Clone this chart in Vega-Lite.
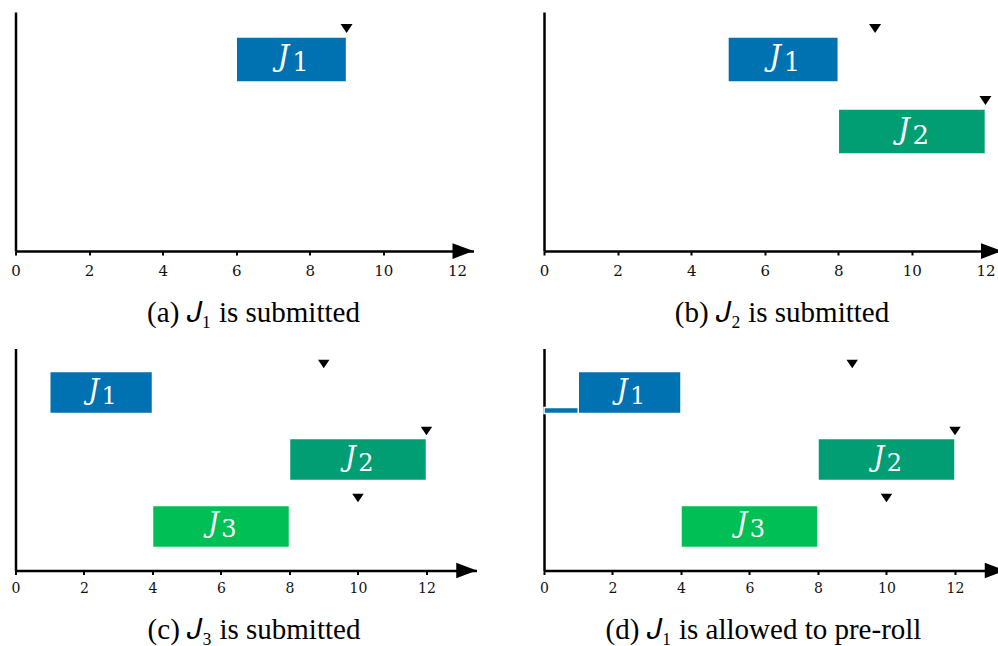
{
  "$schema": "https://vega.github.io/schema/vega-lite/v6.json",
  "padding": {"left": 10.5, "top": 12, "right": 0, "bottom": 0},
  "background": "white",
  "config": {
    "view": {"stroke": null},
    "title": {"font": "Liberation Serif", "fontSize": 29, "fontWeight": "normal", "color": "black", "orient": "bottom", "offset": 20.5},
    "axis": {"grid": false, "title": null, "domainColor": "black", "domainWidth": 2.5, "tickColor": "black", "tickWidth": 2, "tickSize": 4, "labelFont": "DejaVu Serif", "labelColor": "#111", "labelFlush": false}
  },
  "datasets": {
    "jobs": [
      {"panel": "a", "job": "J1", "n": "1", "start": 6, "end": 9},
      {"panel": "b", "job": "J1", "n": "1", "start": 5, "end": 8},
      {"panel": "b", "job": "J2", "n": "2", "start": 8, "end": 12},
      {"panel": "c", "job": "J1", "n": "1", "start": 1, "end": 4},
      {"panel": "c", "job": "J2", "n": "2", "start": 8, "end": 12},
      {"panel": "c", "job": "J3", "n": "3", "start": 4, "end": 8},
      {"panel": "d", "job": "J1", "n": "1", "start": 1, "end": 4},
      {"panel": "d", "job": "J2", "n": "2", "start": 8, "end": 12},
      {"panel": "d", "job": "J3", "n": "3", "start": 4, "end": 8}
    ],
    "preroll": [
      {"panel": "d", "job": "J1", "start": 0, "end": 1}
    ],
    "deadlines": [
      {"panel": "a", "job": "J1", "deadline": 9},
      {"panel": "b", "job": "J1", "deadline": 9},
      {"panel": "b", "job": "J2", "deadline": 12},
      {"panel": "c", "job": "J1", "deadline": 9},
      {"panel": "c", "job": "J2", "deadline": 12},
      {"panel": "c", "job": "J3", "deadline": 10},
      {"panel": "d", "job": "J1", "deadline": 9},
      {"panel": "d", "job": "J2", "deadline": 12},
      {"panel": "d", "job": "J3", "deadline": 10}
    ]
  },
  "vconcat": [
    {
      "hconcat": [
        {
          "width": 458, "height": 239,
          "title": {"text": "(a) 𝐽₁ is submitted", "dx": 9},
          "layer": [
            {
              "data": {"name": "jobs"},
              "transform": [{"filter": "datum.panel === 'a'"}],
              "mark": {"type": "bar", "stroke": "white", "strokeWidth": 1.5},
              "encoding": {
                "x": {"field": "start", "type": "quantitative", "scale": {"domain": [0, 12.45], "nice": false, "zero": false}, "axis": {"values": [0, 2, 4, 6, 8, 10, 12], "format": "d", "labelFontSize": 15, "labelPadding": 8}},
                "x2": {"field": "end"},
                "y": {"field": "job", "type": "nominal", "scale": {"domain": ["J1", "J2", "J3"], "paddingInner": 0.375, "paddingOuter": 0.347}, "axis": {"ticks": false, "labels": false}},
                "color": {"field": "job", "type": "nominal", "scale": {"domain": ["J1", "J2", "J3"], "range": ["#0071b1", "#019e73", "#00bf55"]}, "legend": null}
              }
            },
            {
              "data": {"name": "jobs"},
              "transform": [{"filter": "datum.panel === 'a'"}, {"fold": ["start", "end"], "as": ["edge", "pos"]}],
              "mark": {"type": "text", "text": "J", "font": "DejaVu Serif", "fontStyle": "italic", "fontSize": 29, "color": "white", "dx": -8, "dy": -2},
              "encoding": {"x": {"aggregate": "mean", "field": "pos", "type": "quantitative"}, "y": {"field": "job", "type": "nominal"}}
            },
            {
              "data": {"name": "jobs"},
              "transform": [{"filter": "datum.panel === 'a'"}, {"fold": ["start", "end"], "as": ["edge", "pos"]}],
              "mark": {"type": "text", "font": "DejaVu Serif", "fontSize": 26, "color": "white", "dx": 9, "dy": 4},
              "encoding": {"x": {"aggregate": "mean", "field": "pos", "type": "quantitative"}, "y": {"field": "job", "type": "nominal"}, "text": {"field": "n", "type": "nominal"}}
            },
            {
              "data": {"name": "deadlines"},
              "transform": [{"filter": "datum.panel === 'a'"}],
              "mark": {"type": "point", "shape": "M-1,-0.75L1,-0.75L0,0.75Z", "size": 144, "filled": true, "color": "black", "opacity": 1, "yOffset": -31},
              "encoding": {"x": {"field": "deadline", "type": "quantitative"}, "y": {"field": "job", "type": "nominal"}}
            },
            {
              "data": {"values": [{}]},
              "mark": {"type": "point", "shape": "M-1,-0.75L1,0L-1,0.75Z", "size": 441, "filled": true, "color": "black", "opacity": 1, "xOffset": -10.5},
              "encoding": {"x": {"datum": 12.45, "type": "quantitative"}, "y": {"value": "height"}}
            }
          ]
        },
        {
          "width": 458, "height": 239,
          "title": {"text": "(b) 𝐽₂ is submitted", "dx": 9},
          "layer": [
            {
              "data": {"name": "jobs"},
              "transform": [{"filter": "datum.panel === 'b'"}],
              "mark": {"type": "bar", "stroke": "white", "strokeWidth": 1.5},
              "encoding": {
                "x": {"field": "start", "type": "quantitative", "scale": {"domain": [0, 12.45], "nice": false, "zero": false}, "axis": {"values": [0, 2, 4, 6, 8, 10, 12], "format": "d", "labelFontSize": 15, "labelPadding": 8}},
                "x2": {"field": "end"},
                "y": {"field": "job", "type": "nominal", "scale": {"domain": ["J1", "J2", "J3"], "paddingInner": 0.375, "paddingOuter": 0.347}, "axis": {"ticks": false, "labels": false}},
                "color": {"field": "job", "type": "nominal", "scale": {"domain": ["J1", "J2", "J3"], "range": ["#0071b1", "#019e73", "#00bf55"]}, "legend": null}
              }
            },
            {
              "data": {"name": "jobs"},
              "transform": [{"filter": "datum.panel === 'b'"}, {"fold": ["start", "end"], "as": ["edge", "pos"]}],
              "mark": {"type": "text", "text": "J", "font": "DejaVu Serif", "fontStyle": "italic", "fontSize": 29, "color": "white", "dx": -8, "dy": -2},
              "encoding": {"x": {"aggregate": "mean", "field": "pos", "type": "quantitative"}, "y": {"field": "job", "type": "nominal"}}
            },
            {
              "data": {"name": "jobs"},
              "transform": [{"filter": "datum.panel === 'b'"}, {"fold": ["start", "end"], "as": ["edge", "pos"]}],
              "mark": {"type": "text", "font": "DejaVu Serif", "fontSize": 26, "color": "white", "dx": 9, "dy": 4},
              "encoding": {"x": {"aggregate": "mean", "field": "pos", "type": "quantitative"}, "y": {"field": "job", "type": "nominal"}, "text": {"field": "n", "type": "nominal"}}
            },
            {
              "data": {"name": "deadlines"},
              "transform": [{"filter": "datum.panel === 'b'"}],
              "mark": {"type": "point", "shape": "M-1,-0.75L1,-0.75L0,0.75Z", "size": 144, "filled": true, "color": "black", "opacity": 1, "yOffset": -31},
              "encoding": {"x": {"field": "deadline", "type": "quantitative"}, "y": {"field": "job", "type": "nominal"}}
            },
            {
              "data": {"values": [{}]},
              "mark": {"type": "point", "shape": "M-1,-0.75L1,0L-1,0.75Z", "size": 441, "filled": true, "color": "black", "opacity": 1, "xOffset": -10.5},
              "encoding": {"x": {"datum": 12.45, "type": "quantitative"}, "y": {"value": "height"}}
            }
          ]
        }
      ],
      "spacing": 65.5
    },
    {
      "hconcat": [
        {
          "width": 461, "height": 222,
          "title": {"text": "(c) 𝐽₃ is submitted", "dx": 8},
          "layer": [
            {
              "data": {"name": "jobs"},
              "transform": [{"filter": "datum.panel === 'c'"}],
              "mark": {"type": "bar", "stroke": "white", "strokeWidth": 1.5},
              "encoding": {
                "x": {"field": "start", "type": "quantitative", "scale": {"domain": [0, 13.46], "nice": false, "zero": false}, "axis": {"values": [0, 2, 4, 6, 8, 10, 12], "format": "d", "labelFontSize": 14, "labelPadding": 7}},
                "x2": {"field": "end"},
                "y": {"field": "job", "type": "nominal", "scale": {"domain": ["J1", "J2", "J3"], "paddingInner": 0.375, "paddingOuter": 0.345}, "axis": {"ticks": false, "labels": false}},
                "color": {"field": "job", "type": "nominal", "scale": {"domain": ["J1", "J2", "J3"], "range": ["#0071b1", "#019e73", "#00bf55"]}, "legend": null}
              }
            },
            {
              "data": {"name": "jobs"},
              "transform": [{"filter": "datum.panel === 'c'"}, {"fold": ["start", "end"], "as": ["edge", "pos"]}],
              "mark": {"type": "text", "text": "J", "font": "DejaVu Serif", "fontStyle": "italic", "fontSize": 27, "color": "white", "dx": -7.5, "dy": -2},
              "encoding": {"x": {"aggregate": "mean", "field": "pos", "type": "quantitative"}, "y": {"field": "job", "type": "nominal"}}
            },
            {
              "data": {"name": "jobs"},
              "transform": [{"filter": "datum.panel === 'c'"}, {"fold": ["start", "end"], "as": ["edge", "pos"]}],
              "mark": {"type": "text", "font": "DejaVu Serif", "fontSize": 24, "color": "white", "dx": 8, "dy": 4},
              "encoding": {"x": {"aggregate": "mean", "field": "pos", "type": "quantitative"}, "y": {"field": "job", "type": "nominal"}, "text": {"field": "n", "type": "nominal"}}
            },
            {
              "data": {"name": "deadlines"},
              "transform": [{"filter": "datum.panel === 'c'"}],
              "mark": {"type": "point", "shape": "M-1,-0.75L1,-0.75L0,0.75Z", "size": 132, "filled": true, "color": "black", "opacity": 1, "yOffset": -28.5},
              "encoding": {"x": {"field": "deadline", "type": "quantitative"}, "y": {"field": "job", "type": "nominal"}}
            },
            {
              "data": {"values": [{}]},
              "mark": {"type": "point", "shape": "M-1,-0.75L1,0L-1,0.75Z", "size": 420, "filled": true, "color": "black", "opacity": 1, "xOffset": -10},
              "encoding": {"x": {"datum": 13.46, "type": "quantitative"}, "y": {"value": "height"}}
            }
          ]
        },
        {
          "width": 461, "height": 222,
          "title": {"text": "(d) 𝐽₁ is allowed to pre-roll", "dx": -11},
          "layer": [
            {
              "data": {"name": "jobs"},
              "transform": [{"filter": "datum.panel === 'd'"}],
              "mark": {"type": "bar", "stroke": "white", "strokeWidth": 1.5},
              "encoding": {
                "x": {"field": "start", "type": "quantitative", "scale": {"domain": [0, 13.46], "nice": false, "zero": false}, "axis": {"values": [0, 2, 4, 6, 8, 10, 12], "format": "d", "labelFontSize": 14, "labelPadding": 7}},
                "x2": {"field": "end"},
                "y": {"field": "job", "type": "nominal", "scale": {"domain": ["J1", "J2", "J3"], "paddingInner": 0.375, "paddingOuter": 0.345}, "axis": {"ticks": false, "labels": false}},
                "color": {"field": "job", "type": "nominal", "scale": {"domain": ["J1", "J2", "J3"], "range": ["#0071b1", "#019e73", "#00bf55"]}, "legend": null}
              }
            },
            {
              "data": {"name": "preroll"},
              "mark": {"type": "bar", "height": 6, "yOffset": 18, "color": "#0071b1", "stroke": "white", "strokeWidth": 1.5},
              "encoding": {"x": {"field": "start", "type": "quantitative"}, "x2": {"field": "end"}, "y": {"field": "job", "type": "nominal"}}
            },
            {
              "data": {"name": "jobs"},
              "transform": [{"filter": "datum.panel === 'd'"}, {"fold": ["start", "end"], "as": ["edge", "pos"]}],
              "mark": {"type": "text", "text": "J", "font": "DejaVu Serif", "fontStyle": "italic", "fontSize": 27, "color": "white", "dx": -7.5, "dy": -2},
              "encoding": {"x": {"aggregate": "mean", "field": "pos", "type": "quantitative"}, "y": {"field": "job", "type": "nominal"}}
            },
            {
              "data": {"name": "jobs"},
              "transform": [{"filter": "datum.panel === 'd'"}, {"fold": ["start", "end"], "as": ["edge", "pos"]}],
              "mark": {"type": "text", "font": "DejaVu Serif", "fontSize": 24, "color": "white", "dx": 8, "dy": 4},
              "encoding": {"x": {"aggregate": "mean", "field": "pos", "type": "quantitative"}, "y": {"field": "job", "type": "nominal"}, "text": {"field": "n", "type": "nominal"}}
            },
            {
              "data": {"name": "deadlines"},
              "transform": [{"filter": "datum.panel === 'd'"}],
              "mark": {"type": "point", "shape": "M-1,-0.75L1,-0.75L0,0.75Z", "size": 132, "filled": true, "color": "black", "opacity": 1, "yOffset": -28.5},
              "encoding": {"x": {"field": "deadline", "type": "quantitative"}, "y": {"field": "job", "type": "nominal"}}
            },
            {
              "data": {"values": [{}]},
              "mark": {"type": "point", "shape": "M-1,-0.75L1,0L-1,0.75Z", "size": 420, "filled": true, "color": "black", "opacity": 1, "xOffset": -10},
              "encoding": {"x": {"datum": 13.46, "type": "quantitative"}, "y": {"value": "height"}}
            }
          ]
        }
      ],
      "spacing": 61.5
    }
  ],
  "spacing": 20.5
}
